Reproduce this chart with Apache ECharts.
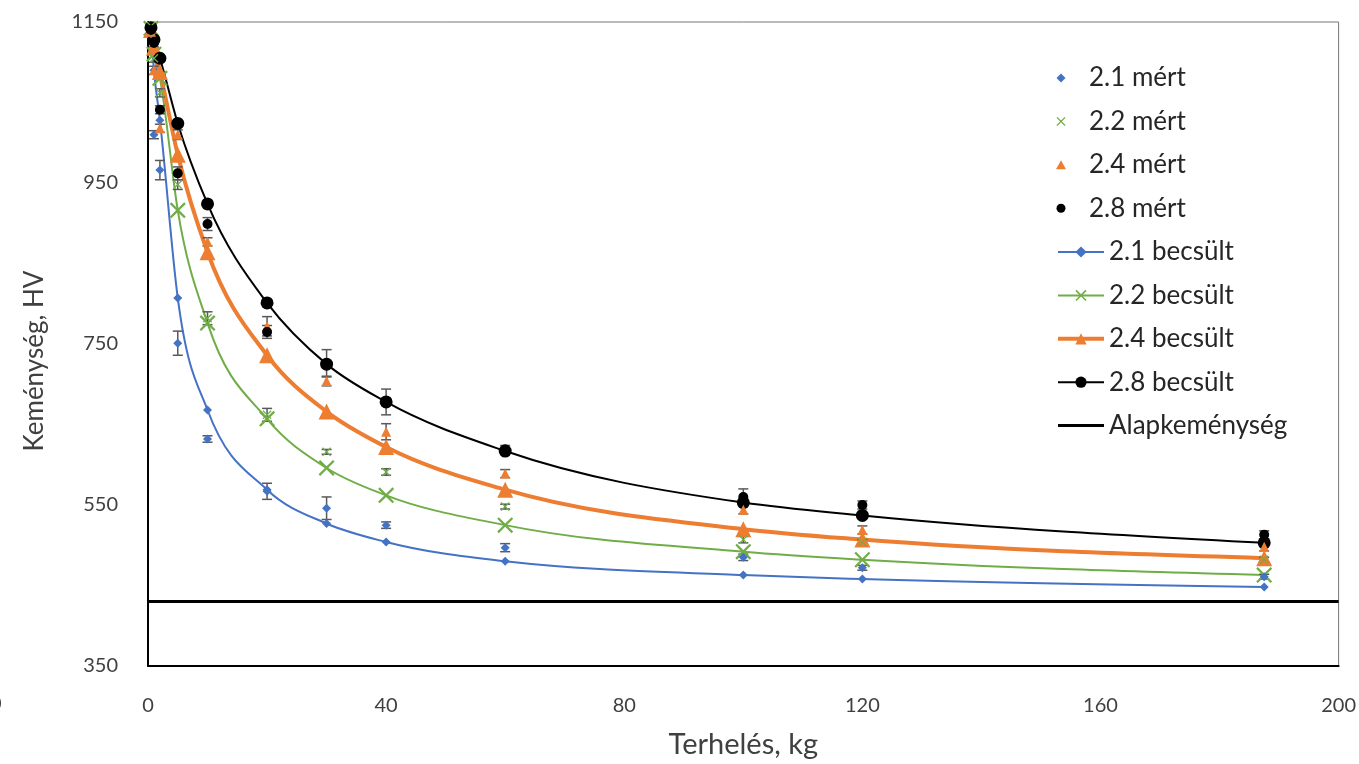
<!DOCTYPE html>
<html>
<head>
<meta charset="utf-8">
<title>Keménység - terhelés</title>
<script src="https://cdn.jsdelivr.net/npm/echarts@6/dist/echarts.min.js"></script>
<style>
html, body { margin: 0; padding: 0; background: #fff; }
#main { width: 1359px; height: 764px; }
</style>
</head>
<body>
<div id="main"></div>
<script>
// terhelés (kg)
var loads = [0.5, 1, 2, 5, 10, 20, 30, 40, 60, 100, 120, 187.5];
var xTicks = [0, 40, 80, 120, 160, 200];
var yTicks = [350, 550, 750, 950, 1150];

// mért keménység + szórás
var mert21 = [1135, 1010, 966, 751, 632, 567, 546, 525, 497, 485, 472, 461];
var err21  = [3, 5, 12, 15, 4, 10, 14, 4, 5, 4, 3, 3];
var mert22 = [1145, 1105, 1062, 948, 782, 662, 616, 591, 548, 507, 504, 482];
var err22  = [3, 5, 5, 6, 8, 8, 3, 4, 3, 4, 3, 3];
var mert24 = [1138, 1090, 1018, 1010, 877, 772, 704, 641, 589, 544, 519, 498];
var err24  = [3, 5, 5, 6, 5, 12, 6, 10, 5, 5, 5, 5];
var mert28 = [1140, 1124, 1041, 962, 899, 765, 726, 678, 619, 560, 550, 513];
var err28  = [4, 5, 5, 8, 8, 8, 17, 16, 5, 10, 5, 5];

// becsült görbék
var becs21 = [1135, 1090, 1028, 807, 668, 569, 527, 504, 480, 463, 458, 448];
var becs22 = [1142, 1110, 1080, 916, 776, 657, 596, 562, 525, 492, 482, 463];
var becs24 = [1140, 1118, 1088, 985, 864, 736, 666, 622, 569, 520, 507, 484];
var becs28 = [1143, 1128, 1105, 1024, 924, 801, 725, 678, 617, 553, 537, 503];

var alapX = [0, 200];
var alapkemenyseg = 430;

var FONT = 'Lato, "Noto Sans", sans-serif';
var xMark = 'path://M0,1L1,0L5,4L9,0L10,1L6,5L10,9L9,10L5,6L1,10L0,9L4,5Z';
var diaMark = 'path://M5,0L10,5L5,10L0,5Z';
var triMark = 'path://M5,0L10,9L0,9Z';

function pairs(ys) {
    var res = [];
    for (var i = 0; i < loads.length; i++) {
        res.push([loads[i], ys[i]]);
    }
    return res;
}

// monoton köbös görbe a képpontokon át (mint az Excel simított vonala)
function smoothPath(pts) {
    var n = pts.length, m = [], i;
    function sgn(v) { return v < 0 ? -1 : 1; }
    var s = [];
    for (i = 0; i < n - 1; i++) {
        s.push((pts[i + 1][1] - pts[i][1]) / (pts[i + 1][0] - pts[i][0]));
    }
    for (i = 1; i < n - 1; i++) {
        var h0 = pts[i][0] - pts[i - 1][0], h1 = pts[i + 1][0] - pts[i][0];
        var p = (s[i - 1] * h1 + s[i] * h0) / (h0 + h1);
        m[i] = (sgn(s[i - 1]) + sgn(s[i])) * Math.min(Math.abs(s[i - 1]), Math.abs(s[i]), 0.5 * Math.abs(p)) || 0;
    }
    m[0] = (3 * s[0] - m[1]) / 2;
    m[n - 1] = (3 * s[n - 2] - m[n - 2]) / 2;
    var d = 'M' + pts[0][0] + ',' + pts[0][1];
    for (i = 0; i < n - 1; i++) {
        var h = (pts[i + 1][0] - pts[i][0]) / 3;
        d += 'C' + (pts[i][0] + h) + ',' + (pts[i][1] + m[i] * h) + ',' +
             (pts[i + 1][0] - h) + ',' + (pts[i + 1][1] - m[i + 1] * h) + ',' +
             pts[i + 1][0] + ',' + pts[i + 1][1];
    }
    return d;
}

function curve(name, vals, color, width) {
    return {
        type: 'custom',
        name: name,
        z: 2,
        silent: true,
        encode: { x: 0, y: 1 },
        data: pairs(vals),
        renderItem: function(params, api) {
            if (params.dataIndex !== 0) return null;
            var pts = [];
            for (var i = 0; i < loads.length; i++) {
                pts.push(api.coord([loads[i], vals[i]]));
            }
            return {
                type: 'path',
                shape: { pathData: smoothPath(pts) },
                style: { stroke: color, lineWidth: width, fill: 'none' }
            };
        }
    };
}

function errBars(name, vals, errs) {
    var d = [];
    for (var i = 0; i < loads.length; i++) {
        d.push([loads[i], vals[i] - errs[i], vals[i] + errs[i]]);
    }
    return {
        type: 'custom',
        name: name,
        z: 3,
        silent: true,
        encode: { x: 0, y: [1, 2] },
        data: d,
        renderItem: function(params, api) {
            var lo = api.coord([api.value(0), api.value(1)]);
            var hi = api.coord([api.value(0), api.value(2)]);
            var w = 5;
            var st = { stroke: '#595959', lineWidth: 1.5 };
            return {
                type: 'group',
                children: [
                    { type: 'line', shape: { x1: lo[0], y1: lo[1], x2: hi[0], y2: hi[1] }, style: st },
                    { type: 'line', shape: { x1: lo[0] - w, y1: lo[1], x2: lo[0] + w, y2: lo[1] }, style: st },
                    { type: 'line', shape: { x1: hi[0] - w, y1: hi[1], x2: hi[0] + w, y2: hi[1] }, style: st }
                ]
            };
        }
    };
}

function mert(name, vals, color, symbol, size) {
    return {
        type: 'scatter',
        name: name,
        z: 4,
        symbol: symbol,
        symbolSize: size,
        itemStyle: { color: color, opacity: 1 },
        data: pairs(vals)
    };
}

// jelölők a becsült görbén (a vonalat a curve() rajzolja)
function becs(name, vals, color, symbol, size, width) {
    return {
        type: 'line',
        name: name,
        z: 3,
        symbol: symbol,
        symbolSize: size,
        showAllSymbol: true,
        lineStyle: { color: color, width: width, opacity: 0 },
        itemStyle: { color: color },
        data: pairs(vals)
    };
}

var myChart = echarts.init(document.getElementById('main'));

var legendText = { fontFamily: FONT, fontSize: 26, color: '#262626', lineHeight: 24 };

var option = {
    animation: false,
    backgroundColor: '#fff',
    grid: {
        left: 148, right: 16, top: 22, bottom: 98,
        show: true, borderColor: '#767676', borderWidth: 1
    },
    legend: [{
        data: ['2.1 mért', '2.2 mért', '2.4 mért', '2.8 mért'],
        orient: 'vertical',
        left: 1056, top: 65, padding: 0,
        itemWidth: 46, itemHeight: 9, itemGap: 17.4,
        textStyle: legendText,
        selectedMode: false
    }, {
        data: [
            { name: '2.1 becsült', lineStyle: { opacity: 1, width: 2 } },
            { name: '2.2 becsült', lineStyle: { opacity: 1, width: 2 } },
            { name: '2.4 becsült', lineStyle: { opacity: 1, width: 4 } },
            { name: '2.8 becsült', lineStyle: { opacity: 1, width: 2 } },
            { name: 'Alapkeménység', lineStyle: { opacity: 1, width: 3 }, itemStyle: { color: 'rgba(0,0,0,0)', opacity: 0 } }
        ],
        orient: 'vertical',
        left: 1056, top: 239, padding: 0,
        itemWidth: 46, itemHeight: 14, itemGap: 17.4,
        textStyle: legendText,
        selectedMode: false
    }],
    xAxis: {
        type: 'value',
        min: xTicks[0], max: xTicks[xTicks.length - 1], interval: xTicks[1] - xTicks[0],
        name: 'Terhelés, kg',
        nameLocation: 'middle', nameGap: 64,
        nameTextStyle: { fontFamily: FONT, fontSize: 29, color: '#404040' },
        axisLine: { lineStyle: { color: '#000', width: 2 } },
        axisTick: { show: false },
        splitLine: { show: false },
        axisLabel: { fontFamily: FONT, fontSize: 20, color: '#404040', margin: 30 }
    },
    yAxis: {
        type: 'value',
        min: yTicks[0], max: yTicks[yTicks.length - 1], interval: yTicks[1] - yTicks[0],
        name: 'Keménység, HV',
        nameLocation: 'middle', nameGap: 100,
        nameTextStyle: { fontFamily: FONT, fontSize: 26, color: '#404040', padding: [0, 34, 0, 0] },
        axisLine: { show: true, lineStyle: { color: '#000', width: 2 } },
        axisTick: { show: false },
        splitLine: { show: false },
        axisLabel: {
            fontFamily: FONT, fontSize: 20, color: '#404040', margin: 30,
            formatter: function(v) { return String(v); }
        }
    },
    graphic: [{
        type: 'text', left: -10, top: 694,
        style: { text: '0', fontFamily: FONT, fontSize: 20, fill: '#404040' }
    }],
    series: [
        curve('2.1 görbe', becs21, '#4472C4', 2),
        curve('2.2 görbe', becs22, '#70AD47', 2),
        curve('2.4 görbe', becs24, '#ED7D31', 4),
        curve('2.8 görbe', becs28, '#000000', 2),
        becs('2.1 becsült', becs21, '#4472C4', diaMark, 9, 2),
        becs('2.2 becsült', becs22, '#70AD47', xMark, 16, 2),
        becs('2.4 becsült', becs24, '#ED7D31', triMark, 16, 4),
        becs('2.8 becsült', becs28, '#000000', 'circle', 13, 2),
        {
            type: 'line',
            name: 'Alapkeménység',
            z: 1,
            symbol: 'none',
            lineStyle: { color: '#000', width: 3 },
            itemStyle: { color: '#000' },
            data: [[alapX[0], alapkemenyseg], [alapX[1], alapkemenyseg]]
        },
        errBars('2.1 hiba', mert21, err21),
        errBars('2.2 hiba', mert22, err22),
        errBars('2.4 hiba', mert24, err24),
        errBars('2.8 hiba', mert28, err28),
        mert('2.1 mért', mert21, '#4472C4', diaMark, 9),
        mert('2.2 mért', mert22, '#70AD47', xMark, 9),
        mert('2.4 mért', mert24, '#ED7D31', triMark, 10),
        mert('2.8 mért', mert28, '#000000', 'circle', 10)
    ]
};

myChart.setOption(option);
</script>
</body>
</html>
